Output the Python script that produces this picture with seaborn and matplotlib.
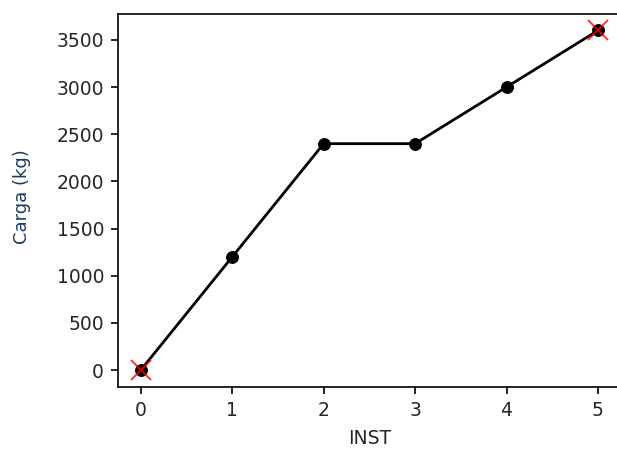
import matplotlib
matplotlib.use("Agg")
import matplotlib.pyplot as plt
import seaborn as sns
import pandas as pd

inst = [0, 1, 2, 3, 4, 5]
carga = [0, 1200, 2400, 2400, 3000, 3600]
limit_inst = [0, 5]
limit_carga = [0, 3600]

sns.set_style("ticks")
fig = plt.figure(figsize=(6.17, 4.5), dpi=100)
ax = fig.add_axes([0.1912, 0.140, 0.815, 0.830])

df = pd.DataFrame({"INST": inst, "Carga": carga})
sns.lineplot(data=df, x="INST", y="Carga", ax=ax, color="black",
             marker="o", markersize=8.5, markeredgecolor="black", linewidth=2)
ax.plot(limit_inst, limit_carga, linestyle="none", marker="x",
        color="red", markersize=15, markeredgewidth=1.4, alpha=0.8)

ax.set_xlabel("INST", fontsize=13.5)
ax.set_ylabel("Carga (kg)", fontsize=13, color="#1c3a5e")
ax.tick_params(labelsize=13.5, length=5, width=1.2, pad=5, color="black")
ax.set_xticks(inst)
ax.set_yticks(range(0, 3501, 500))
ax.yaxis.set_label_coords(-0.172, 0.51)
ax.xaxis.set_label_coords(0.5, -0.113)
for s in ax.spines.values():
    s.set_visible(True)
    s.set_color("black")
    s.set_linewidth(1.2)

fig.savefig("out.png", dpi=100)
